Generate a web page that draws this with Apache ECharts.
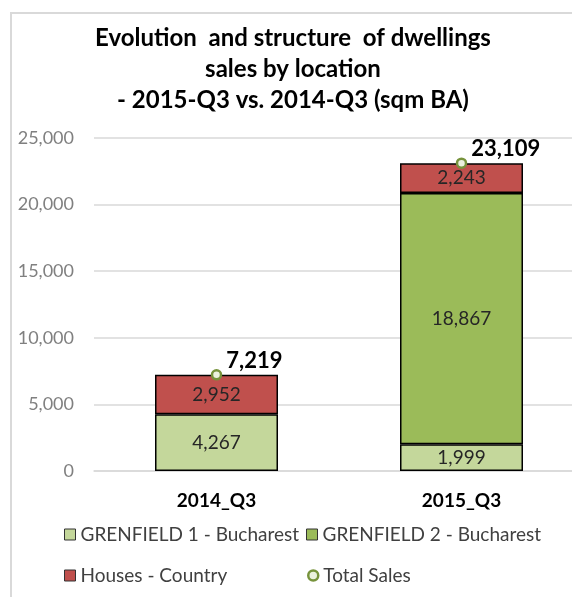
<!DOCTYPE html>
<html>
<head>
<meta charset="utf-8">
<script src="https://cdn.jsdelivr.net/npm/echarts@6/dist/echarts.min.js"></script>
<style>
  html, body { margin: 0; padding: 0; background: #fff; }
  #chart { width: 572px; height: 597px; }
</style>
</head>
<body>
<div id="chart"></div>
<script>
const categories = ['2014_Q3', '2015_Q3'];
const grenfield1 = [4267, 1999];
const grenfield2 = ['-', 18867];
const housesCountry = [2952, 2243];
const totalSales = [7219, 23109];
const yTicks = [0, 5000, 10000, 15000, 20000, 25000];

const font = 'Lato, "Open Sans", sans-serif';
const fmt = v => Number(v).toLocaleString('en-US');

const chart = echarts.init(document.getElementById('chart'));

const segLabel = {
    show: true,
    position: 'inside',
    fontFamily: font,
    fontSize: 19,
    color: '#262626',
    formatter: p => fmt(p.value)
};

// one legend per item so the two columns line up like the original
const legendText = { fontFamily: font, fontSize: 19, color: '#404040' };
const boxLegend = (name, left, top) => ({
    data: [{ name: name, icon: 'rect' }],
    left: left,
    top: top,
    padding: 0,
    itemWidth: 11,
    itemHeight: 11,
    itemGap: 0,
    itemStyle: { borderColor: '#333', borderWidth: 1 },
    textStyle: legendText
});

const option = {
    animation: false,
    title: {
        text: 'Evolution  and structure  of dwellings\nsales by location\n- 2015-Q3 vs. 2014-Q3 (sqm BA)',
        left: 293,
        top: 23,
        padding: 0,
        textAlign: 'center',
        textStyle: {
            fontFamily: font,
            fontSize: 24,
            fontWeight: 'bold',
            color: '#000',
            lineHeight: 31
        }
    },
    graphic: [
        {
            type: 'polyline',
            shape: { points: [[11, 597], [11, 13], [572, 13]] },
            style: { stroke: '#d9d9d9', lineWidth: 2, fill: null }
        }
    ],
    legend: [
        boxLegend('GRENFIELD 1 - Bucharest', 64, 525),
        boxLegend('GRENFIELD 2 - Bucharest', 306, 525),
        boxLegend('Houses - Country', 64, 566),
        {
            data: [{ name: 'Total Sales', icon: 'circle' }],
            left: 307,
            top: 566,
            padding: 0,
            itemWidth: 10,
            itemHeight: 10,
            itemStyle: { color: '#ebf1de', borderColor: '#77933c', borderWidth: 2.5 },
            textStyle: legendText
        }
    ],
    grid: {
        left: 94,
        top: 138,
        width: 490,
        height: 333,
        containLabel: false,
        outerBoundsMode: 'none'
    },
    xAxis: {
        type: 'category',
        data: categories,
        axisLine: { show: true, lineStyle: { color: '#d9d9d9', width: 1.5 } },
        axisTick: { show: false },
        axisLabel: {
            fontFamily: font,
            fontSize: 19,
            fontWeight: 'bold',
            color: '#000',
            margin: 20
        }
    },
    yAxis: {
        type: 'value',
        min: yTicks[0],
        max: yTicks[yTicks.length - 1],
        interval: yTicks[1] - yTicks[0],
        axisLine: { show: false },
        axisTick: { show: false },
        splitLine: { lineStyle: { color: '#d9d9d9', width: 1.5 } },
        axisLabel: {
            fontFamily: font,
            fontSize: 18,
            color: '#808080',
            margin: 20,
            formatter: v => fmt(v)
        }
    },
    series: [
        {
            name: 'GRENFIELD 1 - Bucharest',
            type: 'bar',
            stack: 'total',
            barWidth: 123,
            data: grenfield1,
            itemStyle: { color: '#c4d79b', borderColor: '#000', borderWidth: 1.5 },
            label: segLabel
        },
        {
            name: 'GRENFIELD 2 - Bucharest',
            type: 'bar',
            stack: 'total',
            data: grenfield2,
            itemStyle: { color: '#9bbb59', borderColor: '#000', borderWidth: 1.5 },
            label: segLabel
        },
        {
            name: 'Houses - Country',
            type: 'bar',
            stack: 'total',
            data: housesCountry,
            itemStyle: { color: '#c0504d', borderColor: '#000', borderWidth: 1.5 },
            label: segLabel
        },
        {
            name: 'Total Sales',
            type: 'line',
            data: totalSales,
            symbol: 'circle',
            symbolSize: 9,
            lineStyle: { width: 0, opacity: 0 },
            itemStyle: { color: '#ebf1de', borderColor: '#77933c', borderWidth: 2.5 },
            z: 5,
            label: {
                show: true,
                position: 'right',
                distance: 3,
                offset: [1, -14],
                fontFamily: font,
                fontSize: 22,
                fontWeight: 'bold',
                color: '#000',
                formatter: p => fmt(p.value)
            }
        }
    ]
};

chart.setOption(option);
</script>
</body>
</html>
